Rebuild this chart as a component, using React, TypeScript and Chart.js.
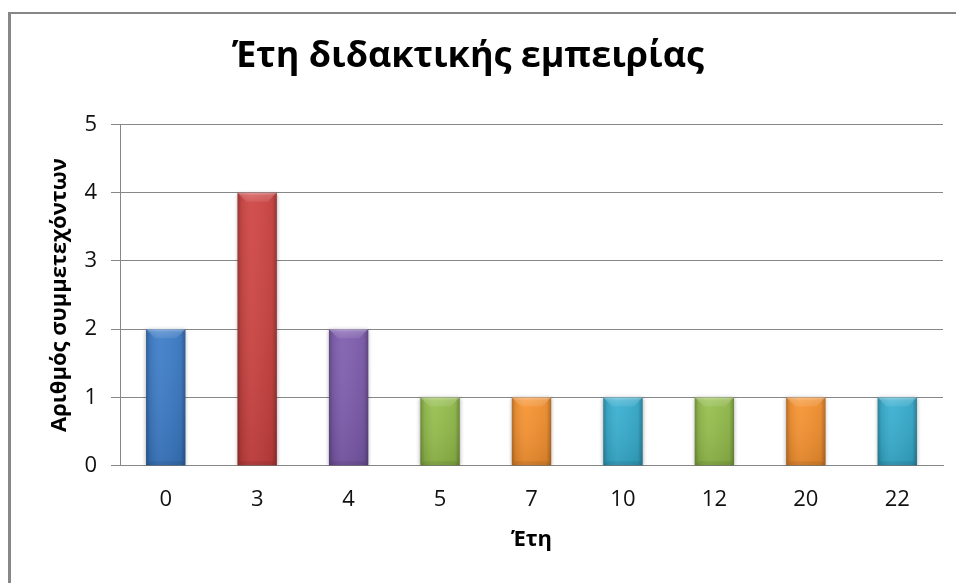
import React, { useEffect, useRef } from "react";
import { Chart, registerables } from "chart.js";

Chart.register(...registerables);

// Years of teaching experience and number of participants per value
const years: string[] = ["0", "3", "4", "5", "7", "10", "12", "20", "22"];
const participants: number[] = [2, 4, 2, 1, 1, 1, 1, 1, 1];
const barColors: string[] = [
  "#3A7BC8",
  "#CE4240",
  "#7D5BAE",
  "#94BE4A",
  "#F8922E",
  "#35AED0",
  "#94BE4A",
  "#F8922E",
  "#35AED0",
];

const chartTitle = "Έτη διδακτικής εμπειρίας";
const xTitle = "Έτη";
const yTitle = "Αριθμός συμμετεχόντων";

const FONT = "'Open Sans', 'Noto Sans', sans-serif";
const GRID = "#878787";

// Soft drop shadow under the bars
const shadowPlugin = {
  id: "barShadow",
  beforeDatasetsDraw(chart: any) {
    const ctx = chart.ctx;
    ctx.save();
    ctx.shadowColor = "rgba(0,0,0,0.35)";
    ctx.shadowBlur = 4;
    ctx.shadowOffsetX = 0;
    ctx.shadowOffsetY = 1;
  },
  afterDatasetsDraw(chart: any) {
    chart.ctx.restore();
  },
};

// Bevelled shading painted over each bar
const bevelPlugin = {
  id: "barBevel",
  afterDatasetsDraw(chart: any) {
    const ctx = chart.ctx;
    const meta = chart.getDatasetMeta(0);
    meta.data.forEach((bar: any) => {
      const { x, y, base, width } = bar.getProps(["x", "y", "base", "width"], true);
      const l = x - width / 2;
      const r = x + width / 2;
      const t = Math.min(y, base);
      const b = Math.max(y, base);
      const h = b - t;
      ctx.save();

      const gh = ctx.createLinearGradient(l, 0, r, 0);
      gh.addColorStop(0, "rgba(0,0,0,0.28)");
      gh.addColorStop(0.1, "rgba(0,0,0,0.08)");
      gh.addColorStop(0.35, "rgba(255,255,255,0.04)");
      gh.addColorStop(0.88, "rgba(0,0,0,0.06)");
      gh.addColorStop(1, "rgba(0,0,0,0.30)");
      ctx.fillStyle = gh;
      ctx.fillRect(l, t, width, h);

      const gv = ctx.createLinearGradient(0, t, 0, b);
      gv.addColorStop(0, "rgba(255,255,255,0.04)");
      gv.addColorStop(1, "rgba(0,0,0,0.10)");
      ctx.fillStyle = gv;
      ctx.fillRect(l, t, width, h);

      const d = Math.min(9, h / 2, width / 2);
      const gt = ctx.createLinearGradient(0, t, 0, t + d);
      gt.addColorStop(0, "rgba(255,255,255,0.40)");
      gt.addColorStop(0.3, "rgba(255,255,255,0.18)");
      gt.addColorStop(1, "rgba(255,255,255,0.08)");
      ctx.beginPath();
      ctx.moveTo(l, t);
      ctx.lineTo(r, t);
      ctx.lineTo(r - d, t + d);
      ctx.lineTo(l + d, t + d);
      ctx.closePath();
      ctx.fillStyle = gt;
      ctx.fill();

      const e = Math.min(4, h / 4);
      ctx.beginPath();
      ctx.moveTo(l, b);
      ctx.lineTo(r, b);
      ctx.lineTo(r - e, b - e);
      ctx.lineTo(l + e, b - e);
      ctx.closePath();
      ctx.fillStyle = "rgba(0,0,0,0.07)";
      ctx.fill();

      ctx.restore();
    });
  },
};

export default function App() {
  const canvasRef = useRef<HTMLCanvasElement | null>(null);

  useEffect(() => {
    const canvas = canvasRef.current;
    if (!canvas) return;
    const chart = new Chart(canvas, {
      type: "bar",
      data: {
        labels: years,
        datasets: [
          {
            data: participants,
            backgroundColor: barColors,
            borderWidth: 0,
            categoryPercentage: 1,
            barPercentage: 0.43,
          },
        ],
      },
      options: {
        responsive: false,
        animation: false,
        devicePixelRatio: 1,
        layout: { padding: { left: 0, right: 8, top: 0, bottom: 0 } },
        plugins: {
          legend: { display: false },
          tooltip: { enabled: false },
          title: {
            display: true,
            text: chartTitle,
            color: "#000",
            font: { family: FONT, size: 36, weight: "bold", lineHeight: 1.2 },
            padding: { top: 21.4, bottom: 45.9 },
          },
        },
        scales: {
          x: {
            grid: { display: false, drawTicks: false },
            border: { display: true, color: GRID, width: 1 },
            ticks: {
              color: "#111",
              padding: 21,
              font: { family: FONT, size: 22, lineHeight: 1.2 },
            },
            title: {
              display: true,
              text: xTitle,
              color: "#000",
              font: { family: FONT, size: 22, weight: "bold", lineHeight: 1.2 },
              padding: { top: 0, bottom: 30 },
            },
            afterFit: (scale: any) => {
              scale.height = 117.3;
            },
          },
          y: {
            min: 0,
            max: 5,
            ticks: {
              stepSize: 1,
              color: "#111",
              padding: 14,
              font: { family: FONT, size: 22, lineHeight: 1.2 },
            },
            grid: { color: GRID, lineWidth: 1, drawTicks: true, tickLength: 9 },
            border: { display: true, color: GRID, width: 1 },
            title: {
              display: true,
              text: yTitle,
              color: "#000",
              font: { family: FONT, size: 22, weight: "bold", lineHeight: 1.2 },
              padding: { top: 53.8, bottom: 0 },
            },
            afterFit: (scale: any) => {
              scale.width = 127;
            },
          },
        },
      },
      plugins: [shadowPlugin, bevelPlugin],
    });
    return () => chart.destroy();
  }, []);

  return (
    <div
      style={{
        position: "fixed",
        left: 8,
        top: 12,
        width: 948,
        height: 571,
        borderLeft: "3px solid #878787",
        borderTop: "2px solid #878787",
        overflow: "hidden",
        background: "#fff",
      }}
    >
      <canvas
        ref={canvasRef}
        width={958}
        height={569}
        style={{ position: "absolute", left: -18, top: 0, width: 958, height: 569, display: "block" }}
      />
    </div>
  );
}
